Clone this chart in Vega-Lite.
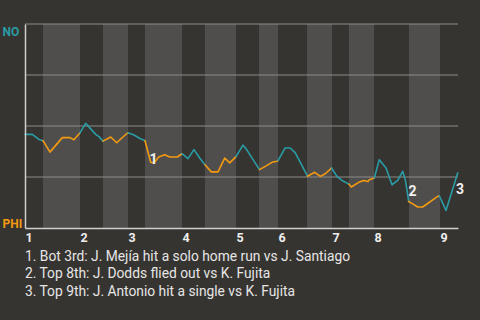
{
  "$schema": "https://vega.github.io/schema/vega-lite/v6.json",
  "width": 433,
  "height": 204,
  "autosize": "none",
  "padding": {"left": 25, "top": 24, "right": 22, "bottom": 92},
  "background": "#363430",
  "config": {"view": {"stroke": null}},
  "title": {
    "text": ["1. Bot 3rd: J. Mejía hit a solo home run vs J. Santiago", "2. Top 8th: J. Dodds flied out vs K. Fujita", "3. Top 9th: J. Antonio hit a single vs K. Fujita"],
    "orient": "bottom",
    "anchor": "start",
    "frame": "group",
    "font": "Roboto",
    "fontSize": 13.8,
    "fontWeight": "normal",
    "color": "#e6e6e6",
    "lineHeight": 17.8,
    "offset": 6
  },
  "layer": [
    {
      "data": {"values": [
        {"s": 18, "e": 55}, {"s": 78, "e": 103}, {"s": 120, "e": 157}, {"s": 180, "e": 211},
        {"s": 234, "e": 253}, {"s": 282, "e": 307}, {"s": 324, "e": 349}, {"s": 384, "e": 415}
      ]},
      "mark": {"type": "rect", "color": "#4f4e4c"},
      "encoding": {
        "x": {"field": "s", "type": "quantitative", "title": null},
        "x2": {"field": "e"}
      }
    },
    {
      "data": {"values": [{"g": 25}, {"g": 50}, {"g": 75}, {"g": 100}]},
      "mark": {"type": "rule", "color": "#8c8b89", "strokeWidth": 1},
      "encoding": {
        "y": {"field": "g", "type": "quantitative", "title": null}
      }
    },
    {
      "data": {"values": [
        {"t": 0, "wp": 45.9, "seg": "T1", "team": "NO"},
        {"t": 7.3, "wp": 45.9, "seg": "T1", "team": "NO"},
        {"t": 14, "wp": 43.4, "seg": "T1", "team": "NO"},
        {"t": 18, "wp": 42.8, "seg": "T1", "team": "NO"},
        {"t": 18, "wp": 42.8, "seg": "B1", "team": "PHI"},
        {"t": 25, "wp": 37.2, "seg": "B1", "team": "PHI"},
        {"t": 37.3, "wp": 44.3, "seg": "B1", "team": "PHI"},
        {"t": 45, "wp": 44.3, "seg": "B1", "team": "PHI"},
        {"t": 49, "wp": 43.3, "seg": "B1", "team": "PHI"},
        {"t": 55, "wp": 46.7, "seg": "B1", "team": "PHI"},
        {"t": 55, "wp": 46.7, "seg": "T2", "team": "NO"},
        {"t": 60.7, "wp": 51.3, "seg": "T2", "team": "NO"},
        {"t": 70.7, "wp": 45.9, "seg": "T2", "team": "NO"},
        {"t": 74, "wp": 44.8, "seg": "T2", "team": "NO"},
        {"t": 78, "wp": 42.6, "seg": "T2", "team": "NO"},
        {"t": 78, "wp": 42.6, "seg": "B2", "team": "PHI"},
        {"t": 85.7, "wp": 44.6, "seg": "B2", "team": "PHI"},
        {"t": 91.7, "wp": 41.8, "seg": "B2", "team": "PHI"},
        {"t": 99, "wp": 45.1, "seg": "B2", "team": "PHI"},
        {"t": 103, "wp": 46.7, "seg": "B2", "team": "PHI"},
        {"t": 103, "wp": 46.7, "seg": "T3", "team": "NO"},
        {"t": 109, "wp": 45.6, "seg": "T3", "team": "NO"},
        {"t": 115, "wp": 43.9, "seg": "T3", "team": "NO"},
        {"t": 120, "wp": 42.8, "seg": "T3", "team": "NO"},
        {"t": 120, "wp": 42.8, "seg": "B3", "team": "PHI"},
        {"t": 125.7, "wp": 32.2, "seg": "B3", "team": "PHI"},
        {"t": 129, "wp": 31.9, "seg": "B3", "team": "PHI"},
        {"t": 133.7, "wp": 34.8, "seg": "B3", "team": "PHI"},
        {"t": 139.7, "wp": 35.9, "seg": "B3", "team": "PHI"},
        {"t": 144.7, "wp": 34.8, "seg": "B3", "team": "PHI"},
        {"t": 152.3, "wp": 34.8, "seg": "B3", "team": "PHI"},
        {"t": 157, "wp": 36.4, "seg": "B3", "team": "PHI"},
        {"t": 157, "wp": 36.4, "seg": "T4", "team": "NO"},
        {"t": 163, "wp": 34.0, "seg": "T4", "team": "NO"},
        {"t": 169, "wp": 38.4, "seg": "T4", "team": "NO"},
        {"t": 174.7, "wp": 34.3, "seg": "T4", "team": "NO"},
        {"t": 180, "wp": 31.0, "seg": "T4", "team": "NO"},
        {"t": 180, "wp": 31.0, "seg": "B4", "team": "PHI"},
        {"t": 186.3, "wp": 27.5, "seg": "B4", "team": "PHI"},
        {"t": 193, "wp": 27.5, "seg": "B4", "team": "PHI"},
        {"t": 199.7, "wp": 34.3, "seg": "B4", "team": "PHI"},
        {"t": 204.7, "wp": 31.9, "seg": "B4", "team": "PHI"},
        {"t": 211, "wp": 35.0, "seg": "B4", "team": "PHI"},
        {"t": 211, "wp": 35.0, "seg": "T5", "team": "NO"},
        {"t": 218, "wp": 40.6, "seg": "T5", "team": "NO"},
        {"t": 221, "wp": 38.9, "seg": "T5", "team": "NO"},
        {"t": 234.5, "wp": 28.6, "seg": "T5", "team": "NO"},
        {"t": 234.5, "wp": 28.6, "seg": "B5", "team": "PHI"},
        {"t": 240.3, "wp": 30.2, "seg": "B5", "team": "PHI"},
        {"t": 247, "wp": 32.2, "seg": "B5", "team": "PHI"},
        {"t": 252, "wp": 32.7, "seg": "B5", "team": "PHI"},
        {"t": 253, "wp": 33.0, "seg": "B5", "team": "PHI"},
        {"t": 253, "wp": 33.0, "seg": "T6", "team": "NO"},
        {"t": 260, "wp": 39.2, "seg": "T6", "team": "NO"},
        {"t": 265.3, "wp": 39.2, "seg": "T6", "team": "NO"},
        {"t": 270.3, "wp": 36.8, "seg": "T6", "team": "NO"},
        {"t": 282.5, "wp": 25.4, "seg": "T6", "team": "NO"},
        {"t": 282.5, "wp": 25.4, "seg": "B6", "team": "PHI"},
        {"t": 289.7, "wp": 27.3, "seg": "B6", "team": "PHI"},
        {"t": 295.3, "wp": 25.3, "seg": "B6", "team": "PHI"},
        {"t": 300.3, "wp": 26.6, "seg": "B6", "team": "PHI"},
        {"t": 306.5, "wp": 29.4, "seg": "B6", "team": "PHI"},
        {"t": 306.5, "wp": 29.4, "seg": "T7", "team": "NO"},
        {"t": 312, "wp": 25.3, "seg": "T7", "team": "NO"},
        {"t": 317, "wp": 23.3, "seg": "T7", "team": "NO"},
        {"t": 324, "wp": 21.5, "seg": "T7", "team": "NO"},
        {"t": 324, "wp": 21.5, "seg": "B7", "team": "PHI"},
        {"t": 326.3, "wp": 20.1, "seg": "B7", "team": "PHI"},
        {"t": 333.7, "wp": 22.4, "seg": "B7", "team": "PHI"},
        {"t": 338.7, "wp": 23.3, "seg": "B7", "team": "PHI"},
        {"t": 343, "wp": 22.8, "seg": "B7", "team": "PHI"},
        {"t": 344.3, "wp": 23.7, "seg": "B7", "team": "PHI"},
        {"t": 349.3, "wp": 24.5, "seg": "B7", "team": "PHI"},
        {"t": 349.3, "wp": 24.5, "seg": "T8", "team": "NO"},
        {"t": 354.3, "wp": 33.5, "seg": "T8", "team": "NO"},
        {"t": 361, "wp": 29.4, "seg": "T8", "team": "NO"},
        {"t": 367, "wp": 21.2, "seg": "T8", "team": "NO"},
        {"t": 372.7, "wp": 23.3, "seg": "T8", "team": "NO"},
        {"t": 377.7, "wp": 27.8, "seg": "T8", "team": "NO"},
        {"t": 380.3, "wp": 23.7, "seg": "T8", "team": "NO"},
        {"t": 383.7, "wp": 13.0, "seg": "T8", "team": "NO"},
        {"t": 383.7, "wp": 13.0, "seg": "B8", "team": "PHI"},
        {"t": 386, "wp": 12.3, "seg": "B8", "team": "PHI"},
        {"t": 392.7, "wp": 10.3, "seg": "B8", "team": "PHI"},
        {"t": 397.7, "wp": 10.3, "seg": "B8", "team": "PHI"},
        {"t": 412.7, "wp": 15.5, "seg": "B8", "team": "PHI"},
        {"t": 414.3, "wp": 15.8, "seg": "B8", "team": "PHI"},
        {"t": 414.3, "wp": 15.8, "seg": "T9", "team": "NO"},
        {"t": 421, "wp": 8.6, "seg": "T9", "team": "NO"},
        {"t": 432.7, "wp": 27.0, "seg": "T9", "team": "NO"}
      ]},
      "mark": {"type": "line", "strokeWidth": 1.6, "strokeJoin": "round", "strokeCap": "round"},
      "encoding": {
        "x": {
          "field": "t", "type": "quantitative", "title": null,
          "scale": {"domain": [0, 433], "nice": false, "zero": false},
          "axis": {
            "values": [0, 55, 103, 157, 211, 253, 307, 349, 415],
            "labelExpr": "'' + (indexof([0, 55, 103, 157, 211, 253, 307, 349, 415], datum.value) + 1)",
            "labelAlign": "left",
            "labelFlush": false,
            "labelOverlap": false,
            "labelFont": "Roboto",
            "labelFontWeight": "bold",
            "labelFontSize": 12.5,
            "labelColor": "#eeeeee",
            "labelPadding": 3,
            "ticks": false,
            "grid": false,
            "domainColor": "#cfcfcf",
            "domainWidth": 1.5,
            "zindex": 1
          }
        },
        "y": {
          "field": "wp", "type": "quantitative", "title": null,
          "scale": {"domain": [0, 100], "nice": false},
          "axis": {
            "values": [0, 100],
            "labelExpr": "datum.value == 100 ? 'NO' : 'PHI'",
            "labelAlign": "left",
            "labelPadding": 23,
            "labelFont": "Roboto",
            "labelFontWeight": "bold",
            "labelFontSize": 12,
            "labelColor": {"condition": {"test": "datum.value == 100", "value": "#2a9ca6"}, "value": "#f49a12"},
            "labelBaseline": {"condition": {"test": "datum.value == 100", "value": "top"}, "value": "alphabetic"},
            "labelOffset": {"condition": {"test": "datum.value == 100", "value": 2}, "value": -1},
            "ticks": false,
            "grid": false,
            "domainColor": "#cfcfcf",
            "domainWidth": 1.5,
            "zindex": 1
          }
        },
        "detail": {"field": "seg"},
        "color": {
          "field": "team", "type": "nominal",
          "scale": {"domain": ["NO", "PHI"], "range": ["#2a9ca6", "#f49a12"]},
          "legend": null
        }
      }
    },
    {
      "data": {"values": [
        {"label": "1", "t": 128.5, "wp": 33.5},
        {"label": "2", "t": 387.5, "wp": 17.8},
        {"label": "3", "t": 435, "wp": 18.8}
      ]},
      "mark": {"type": "text", "font": "Roboto", "fontWeight": "bold", "fontSize": 14, "color": "#f0f0f0", "align": "center", "baseline": "middle"},
      "encoding": {
        "x": {"field": "t", "type": "quantitative", "title": null},
        "y": {"field": "wp", "type": "quantitative", "title": null},
        "text": {"field": "label"}
      }
    }
  ]
}
